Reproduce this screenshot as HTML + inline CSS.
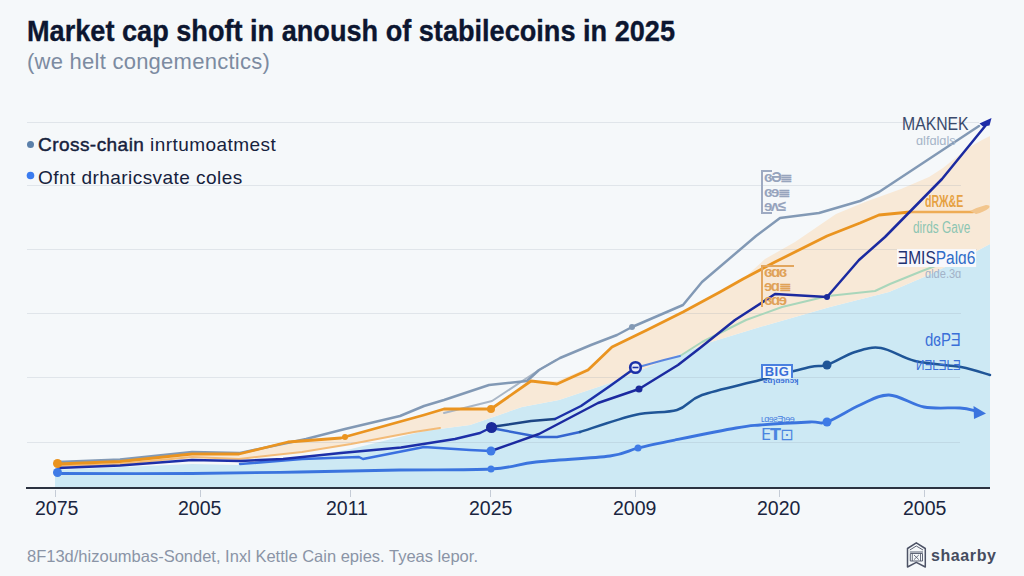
<!DOCTYPE html>
<html><head><meta charset="utf-8">
<style>
html,body{margin:0;padding:0;}
body{width:1024px;height:576px;overflow:hidden;background:#f5f8fa;position:relative;font-family:"Liberation Sans",Arial,sans-serif;}
.t{position:absolute;white-space:nowrap;line-height:1;}
#title{left:27px;top:16px;font-size:30px;font-weight:bold;color:#0c1630;transform:scaleX(0.904);transform-origin:0 0;-webkit-text-stroke:0.35px #0c1630;}
#sub{left:27px;top:51px;font-size:22px;color:#7c8ba1;letter-spacing:0.25px;}
.leg{font-size:19px;color:#16223d;letter-spacing:0.45px;}
.xl{font-size:19.5px;color:#1a2540;top:499px;}
#foot{left:27px;top:547.5px;font-size:16.5px;color:#8a94a6;}
#logo{left:931px;top:548px;font-size:16px;font-weight:bold;color:#454c5f;letter-spacing:0.6px;}
svg{position:absolute;left:0;top:0;}
.lb{transform-origin:0 0;}
.blk{box-sizing:border-box;white-space:normal;}
</style></head><body>
<svg width="1024" height="576" viewBox="0 0 1024 576">
<polygon fill="#cde9f4" points="55.0,470.0 192.0,464.0 240.0,465.0 302.0,458.0 351.0,449.0 424.0,431.0 470.0,425.0 522.0,407.0 559.0,400.0 610.0,383.0 660.0,362.0 711.0,342.0 760.0,327.0 830.0,307.0 889.0,292.0 924.0,277.0 960.0,260.0 990.0,244.0 990,488 55,488"/>
<polygon fill="#f8e9d7" points="58.0,464.0 120.0,461.5 192.0,454.0 239.0,454.0 288.0,442.0 341.0,438.0 424.0,415.0 444.0,409.0 491.0,409.0 531.0,381.0 557.0,381.0 588.0,368.0 612.0,347.0 647.0,330.0 683.0,312.0 720.0,292.0 743.0,279.0 765.0,259.0 795.0,242.0 836.0,214.0 865.0,202.0 901.0,189.0 929.0,177.0 943.0,168.0 968.0,148.0 982.0,140.0 990.0,136.0 990.0,244.0 960.0,260.0 924.0,277.0 889.0,292.0 830.0,307.0 760.0,327.0 711.0,342.0 660.0,362.0 610.0,383.0 559.0,400.0 522.0,407.0 470.0,425.0 424.0,431.0 351.0,444.0 302.0,452.0 239.0,459.0 192.0,457.0 120.0,464.0 58.0,466.0"/>
<g stroke="#8d99ab" stroke-opacity="0.2" stroke-width="1">
<line x1="27" y1="122.5" x2="979" y2="122.5"/>
<line x1="27" y1="185.5" x2="961" y2="185.5"/>
<line x1="27" y1="249.5" x2="977" y2="249.5"/>
<line x1="27" y1="313.5" x2="961" y2="313.5"/>
<line x1="27" y1="377.5" x2="960" y2="377.5"/>
<line x1="27" y1="442.5" x2="960" y2="442.5"/>
</g>
<g fill="none" stroke-linejoin="round" stroke-linecap="round">
<path d="M58.0,466.0 L120.0,464.0 L192.0,457.0 L239.0,459.0 L302.0,452.0 L351.0,444.0 L414.0,432.0 L440.0,428.0" stroke="#f3bb78" stroke-width="2"/>
<path d="M680.0,356.0 L702.0,342.0 L746.0,320.0 L782.0,307.0 L828.0,296.0 L875.0,291.0 L890.0,284.0 L922.0,271.0 L938.0,265.0 L962.0,256.0" stroke="#a9d6bb" stroke-width="2"/>
<path d="M444.0,413.0 L492.0,401.0 L539.0,370.0 L556.0,360.0" stroke="#a9b6c6" stroke-width="2"/>
<path d="M58.0,462.0 L120.0,459.5 L192.0,452.0 L240.0,453.0 L306.0,439.0 L345.0,429.0 L400.0,416.0 L424.0,406.0 L444.0,400.0 L489.0,385.0 L527.0,381.0 L539.0,370.0 L560.0,358.0 L591.0,345.0 L617.0,335.0 L632.0,327.0 L683.0,305.0 L702.0,282.0 L756.0,236.0 L780.0,218.0 L819.0,213.0 L860.0,201.0 L879.0,192.0 L979.0,126.0" stroke="#8299b5" stroke-width="2.5"/>
<path d="M58.0,464.0 L120.0,461.5 L192.0,454.0 L239.0,454.0 L288.0,442.0 L341.0,438.0 L424.0,415.0 L444.0,409.0 L491.0,409.0 L531.0,381.0 L557.0,384.0 L588.0,370.0 L612.0,347.0 L647.0,330.0 L683.0,312.0 L720.0,292.0 L743.0,279.0 L775.0,262.0 L827.0,236.0 L860.0,223.0 L879.0,215.0 L910.0,212.0" stroke="#ea9420" stroke-width="2.8"/>
<path d="M910.0,212.0 L973.0,212.0" stroke="#eeac55" stroke-width="2.5"/>
<path d="M58.0,473.5 C80.3,473.5 151.7,473.8 192.0,473.5 C232.3,473.2 265.3,472.6 300.0,472.0 C334.7,471.4 368.2,470.5 400.0,470.0 C431.8,469.5 468.3,470.3 491.0,469.0 C513.7,467.7 516.2,464.2 536.0,462.0 C555.8,459.8 593.0,458.3 610.0,456.0 C627.0,453.7 627.2,450.7 638.0,448.0 C648.8,445.3 658.7,443.3 675.0,440.0 C691.3,436.7 721.8,430.5 736.0,428.0 C750.2,425.5 747.7,426.0 760.0,425.0 C772.3,424.0 798.8,422.5 810.0,422.0 C821.2,421.5 818.7,424.8 827.0,422.0 C835.3,419.2 849.7,409.5 860.0,405.0 C870.3,400.5 878.3,394.7 889.0,395.0 C899.7,395.3 912.2,404.8 924.0,407.0 C935.8,409.2 951.3,407.3 960.0,408.0 C968.7,408.7 973.3,410.5 976.0,411.0" stroke="#3b74de" stroke-width="2.8"/>
<path d="M240.0,464.0 L302.0,459.0 L359.0,457.0 L363.0,459.0 L424.0,447.0 L470.0,450.0 L491.0,451.0" stroke="#3a70e0" stroke-width="2.5"/>
<path d="M491.0,428.0 L539.0,437.0 L557.0,437.0 L580.0,432.0" stroke="#3566d0" stroke-width="2.5"/>
<path d="M580.0,432.0 C589.2,429.2 618.8,418.7 635.0,415.0 C651.2,411.3 665.8,413.3 677.0,410.0 C688.2,406.7 688.2,400.0 702.0,395.0 C715.8,390.0 742.0,384.7 760.0,380.0 C778.0,375.3 798.8,369.5 810.0,367.0 C821.2,364.5 819.5,367.5 827.0,365.0 C834.5,362.5 846.0,354.8 855.0,352.0 C864.0,349.2 871.0,346.5 881.0,348.0 C891.0,349.5 901.7,357.8 915.0,361.0 C928.3,364.2 948.5,364.7 961.0,367.0 C973.5,369.3 985.2,373.7 990.0,375.0" stroke="#1f5597" stroke-width="2.5"/>
<path d="M58.0,468.0 L120.0,465.5 L192.0,460.0 L240.0,461.0 L283.0,459.0 L341.0,453.0 L401.0,447.5 L455.0,439.0 L480.0,433.0 L491.0,427.5" stroke="#1d2fa8" stroke-width="2.5"/>
<path d="M491.0,427.0 L531.0,421.0 L555.0,419.0" stroke="#1c4585" stroke-width="2.5"/>
<path d="M555.0,419.0 L581.0,406.0 L610.0,386.0 L635.0,368.0" stroke="#1b30a8" stroke-width="2.5"/>
<path d="M635.0,368.0 L664.0,360.0 L680.0,356.0" stroke="#5a86df" stroke-width="2"/>
<path d="M491.0,451.0 L539.0,434.0 L598.0,403.0 L639.0,389.0 L678.0,365.0 L700.0,348.0 L735.0,320.0 L775.0,294.0 L827.0,297.0 L859.0,260.0 L885.0,237.0 L942.0,179.0 L986.0,125.0" stroke="#1b2aa0" stroke-width="2.5"/>
</g>

<polygon fill="#1d2ca8" points="991.5,118 979.5,123.5 983,126.5 989.5,125.5"/>
<path fill="#f2c58c" d="M970,211 Q978,207 986,205 Q991,205 989,208 Q984,212 976,214 Z"/>
<polygon fill="#3b74de" points="986,413.4 973.5,406 974,419"/>
<circle cx="57.5" cy="463.5" r="4.5" fill="#ea9420"/>
<circle cx="57.5" cy="472.5" r="4.5" fill="#3f7be6"/>
<circle cx="491.5" cy="427.5" r="5.5" fill="#1a2a9a"/>
<circle cx="491" cy="451" r="4.5" fill="#3f7be6"/>
<circle cx="491" cy="469" r="3.5" fill="#3f7be6"/>
<circle cx="491" cy="409" r="4" fill="#ea9420"/>
<circle cx="345" cy="437" r="3" fill="#ea9420"/>
<circle cx="635.5" cy="367.5" r="5.3" fill="#e8ecf6" stroke="#1b30a8" stroke-width="2.6"/>
<path d="M632.5,367.5 L638.5,367.5" stroke="#1b30a8" stroke-width="1.6"/>
<circle cx="639" cy="389" r="3.5" fill="#1a2a9a"/>
<circle cx="632" cy="327" r="3" fill="#8299b5"/>
<circle cx="827" cy="297" r="3" fill="#1a2a9a"/>
<circle cx="827" cy="365" r="4.5" fill="#1f5597"/>
<circle cx="827" cy="422" r="4.5" fill="#3f7be6"/>
<circle cx="638" cy="448" r="3.5" fill="#3f7be6"/>
<line x1="26" y1="488" x2="990" y2="488" stroke="#2b3240" stroke-width="2"/>
<g stroke="#c5ccd6" stroke-width="1">

<line x1="55.5" y1="490" x2="55.5" y2="497"/>
<line x1="200.5" y1="490" x2="200.5" y2="497"/>
<line x1="350.5" y1="490" x2="350.5" y2="497"/>
<line x1="490.5" y1="490" x2="490.5" y2="497"/>
<line x1="635.5" y1="490" x2="635.5" y2="497"/>
<line x1="779.5" y1="490" x2="779.5" y2="497"/>
<line x1="924.5" y1="490" x2="924.5" y2="497"/>
</g>
<circle cx="30.5" cy="144.5" r="3.5" fill="#5b80aa"/>
<circle cx="30.5" cy="175.5" r="3.8" fill="#3b7cf0"/>
<g fill="none" stroke="#4d5366" stroke-width="1.5" stroke-linejoin="round">
<path d="M907.5,548.5 L916.3,542.8 L925.3,548.5 L925.3,567 L916.3,562.3 L907.5,567 Z"/>
<path d="M909.8,550 L916.3,546 L923,550 M909.8,552 L923,552" stroke-width="0.9"/>
<rect x="910.3" y="553.5" width="12.2" height="7.5" stroke-width="0.9"/>
<path d="M912.3,553.5 L912.3,561 M920.5,553.5 L920.5,561 M914,555 L918.8,559.6 M918.8,555 L914,559.6" stroke-width="0.8"/>
</g>
</svg>
<div class="t" id="title">Market cap shoft in anoush of stabilecoins in 2025</div>
<div class="t" id="sub">(we helt congemenctics)</div>
<div class="t leg" style="left:38px;top:135px;"><span style="-webkit-text-stroke:0.45px #16223d">Cross-chain</span> inrtumoatmest</div>
<div class="t leg" style="left:38px;top:168px;">Ofnt drharicsvate coles</div>
<div class="t xl" style="left:35px;">2075</div>
<div class="t xl" style="left:178px;">2005</div>
<div class="t xl" style="left:326px;">2011</div>
<div class="t xl" style="left:469px;">2025</div>
<div class="t xl" style="left:613px;">2009</div>
<div class="t xl" style="left:757px;">2020</div>
<div class="t xl" style="left:903px;">2005</div>
<div class="t lb" style="left:902px;top:115px;font-size:18px;color:#3a4a6c;transform:scaleX(0.876);">MAKNEK</div>
<div class="t lb" style="left:916px;top:134px;font-size:13px;color:#a6b5c8;transform:scaleX(0.98);">ɑlfɑlɑls</div>
<div class="t lb" style="left:925px;top:194px;font-size:16px;font-weight:bold;color:#e6a243;transform:scaleX(0.66);">dRЖ&amp;E</div>
<div class="t lb" style="left:913px;top:220px;font-size:16px;color:#8cc5b2;transform:scaleX(0.74);">dirds Gave</div>
<div class="t lb" style="left:897px;top:249px;font-size:18px;color:#1e3272;background:#f8f8fb;transform:scaleX(0.86);padding:0 1px;">ƎMIS<span style="color:#2f6cc8">Palɑ6</span></div>
<div class="t lb" style="left:925px;top:267px;font-size:13px;color:#a2b2c8;transform:scaleX(0.85);">ɑlde.3ɑ</div>
<div class="t lb" style="left:925px;top:331px;font-size:18px;color:#3a6fd8;transform:scaleX(0.83);">dɞPƎ</div>
<div class="t lb" style="left:916px;top:357px;font-size:15px;color:#3a6fd8;transform:scaleX(0.78);">ИƎLƎLƎ</div>
<div class="t lb" style="left:761px;top:364px;width:32px;height:14px;box-sizing:border-box;border:2px solid #4a80e0;border-bottom:none;background:#eef6fb;font-size:13px;line-height:12px;color:#3a6fd8;font-weight:bold;text-align:center;letter-spacing:0.5px;">BIG</div>
<div class="t lb" style="left:763px;top:377px;font-size:8px;color:#3a6fd8;font-weight:bold;">ƨɑɿɑɘnɔʞ</div>
<div class="t lb" style="left:761px;top:415px;font-size:9px;color:#4a80e0;letter-spacing:-0.5px;">ʟɑɘƨƎɿɘɘ</div>
<div class="t lb" style="left:761px;top:427px;font-size:16px;color:#4a85e0;font-family:'DejaVu Sans',sans-serif;letter-spacing:-1px;">E<span style="font-weight:bold">T</span>⊡</div>
<div class="t lb blk" style="left:761px;top:170px;width:33px;height:44px;border-left:2.5px solid #9eaac2;color:#97a4bd;font-size:15px;font-weight:bold;line-height:14.5px;padding-left:1px;letter-spacing:-1.5px;"><span style="position:absolute;left:0;top:0;width:9px;border-top:2px solid #9eaac2"></span><span style="position:absolute;left:0;bottom:0;width:9px;border-bottom:2px solid #9eaac2"></span>ɞƏ≣<br>ɞɘ≣<br>ɘʌ≤</div>
<div class="t lb blk" style="left:761px;top:265px;width:33px;height:42px;border-left:2.5px solid #e2a65e;color:#e0a258;font-size:15px;font-weight:bold;line-height:14px;padding-left:1px;letter-spacing:-1.5px;"><span style="position:absolute;left:0;top:0;width:31px;border-top:2px solid #e2a65e"></span>ɞɑɞ<br>ɘɑ≣<br>ɞɑɘ</div>
<div class="t" id="foot">8F13d/hizoumbas-Sondet, Inxl Kettle Cain epies. Tyeas lepor.</div>
<div class="t" id="logo">shaarby</div>
</body></html>
